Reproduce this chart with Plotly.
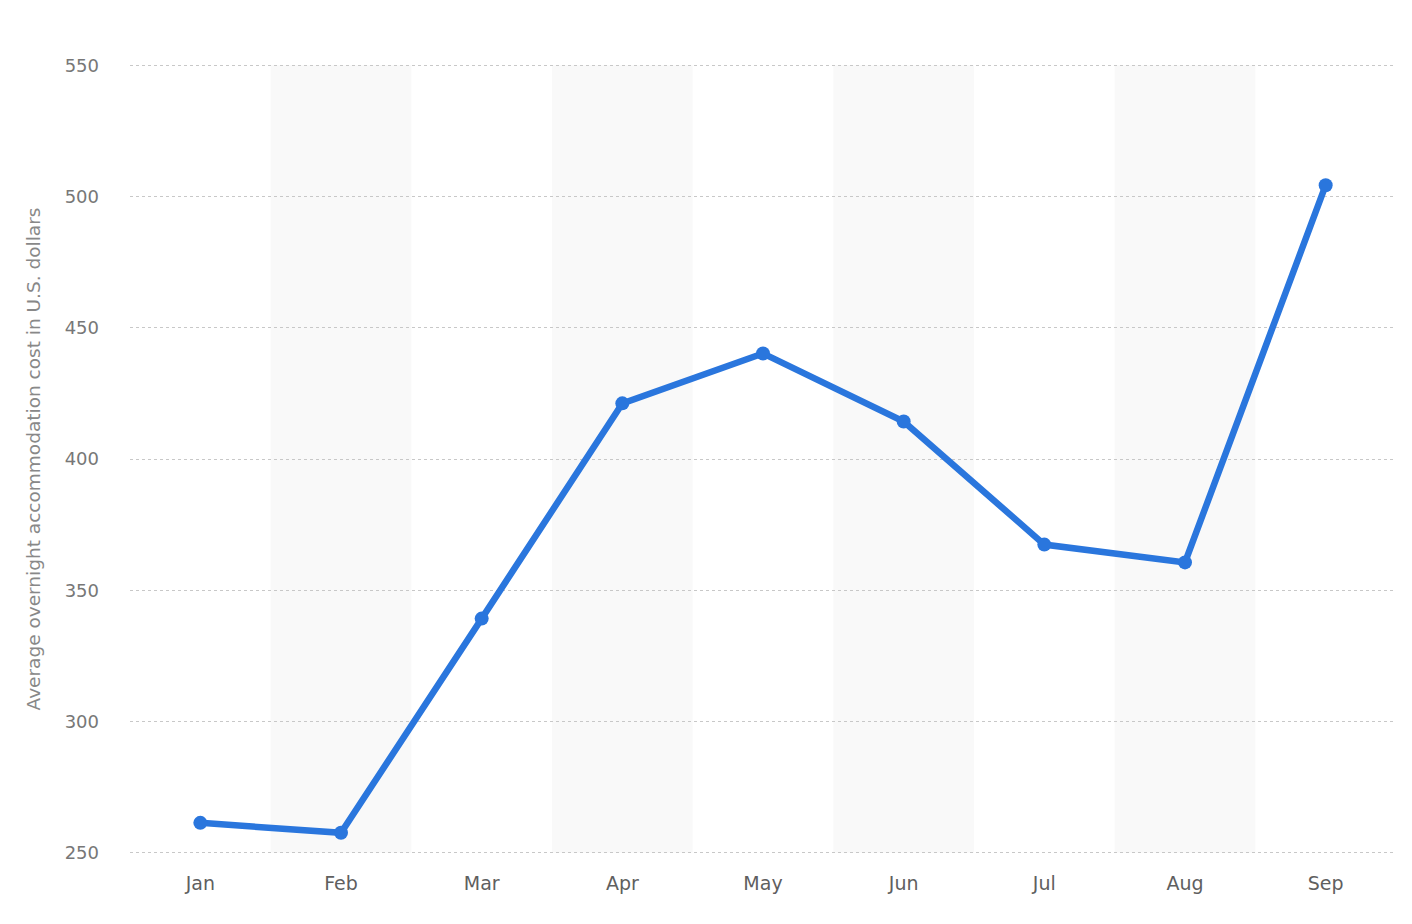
import plotly.graph_objects as go

months = ["Jan", "Feb", "Mar", "Apr", "May", "Jun", "Jul", "Aug", "Sep"]
costs = [261.4, 257.6, 339.2, 421.2, 440.2, 414.3, 367.4, 360.6, 504.3]
y_ticks = [250, 300, 350, 400, 450, 500, 550]

fig = go.Figure()
fig.add_trace(go.Scatter(
    x=list(range(len(months))), y=costs, mode="lines+markers",
    line=dict(color="#2A76DD", width=6.5),
    marker=dict(color="#2A76DD", size=14),
    hoverinfo="skip",
))

shapes = []
for i in range(1, len(months), 2):
    shapes.append(dict(type="rect", xref="x", yref="y", x0=i - 0.5, x1=i + 0.5,
                       y0=y_ticks[0], y1=y_ticks[-1], fillcolor="#F9F9F9",
                       line=dict(width=0), layer="below"))

fig.update_layout(
    width=1412, height=924,
    margin=dict(l=122, r=24, t=52, b=74, autoexpand=False),
    paper_bgcolor="white", plot_bgcolor="white",
    showlegend=False,
    shapes=shapes,
    font=dict(family="DejaVu Sans, sans-serif", color="#666666"),
    xaxis=dict(
        range=[-0.5, len(months) - 0.5],
        tickmode="array", tickvals=list(range(len(months))), ticktext=months,
        showgrid=False, zeroline=False, showline=False,
        tickfont=dict(size=19, color="#5F5F5F"),
        ticks="", ticklabelstandoff=12, automargin=False,
    ),
    yaxis=dict(
        range=[248, 552],
        tickmode="array", tickvals=y_ticks,
        showgrid=True, gridcolor="#C8C8C8", griddash="dot", gridwidth=1,
        zeroline=False, showline=False,
        tickfont=dict(size=18, color="#777777"),
        ticks="", ticklabelstandoff=30, automargin=False,
        title=dict(text="Average overnight accommodation cost in U.S. dollars",
                   font=dict(size=18.5, color="#888888"), standoff=19),
    ),
)

fig.write_html("out.html")
